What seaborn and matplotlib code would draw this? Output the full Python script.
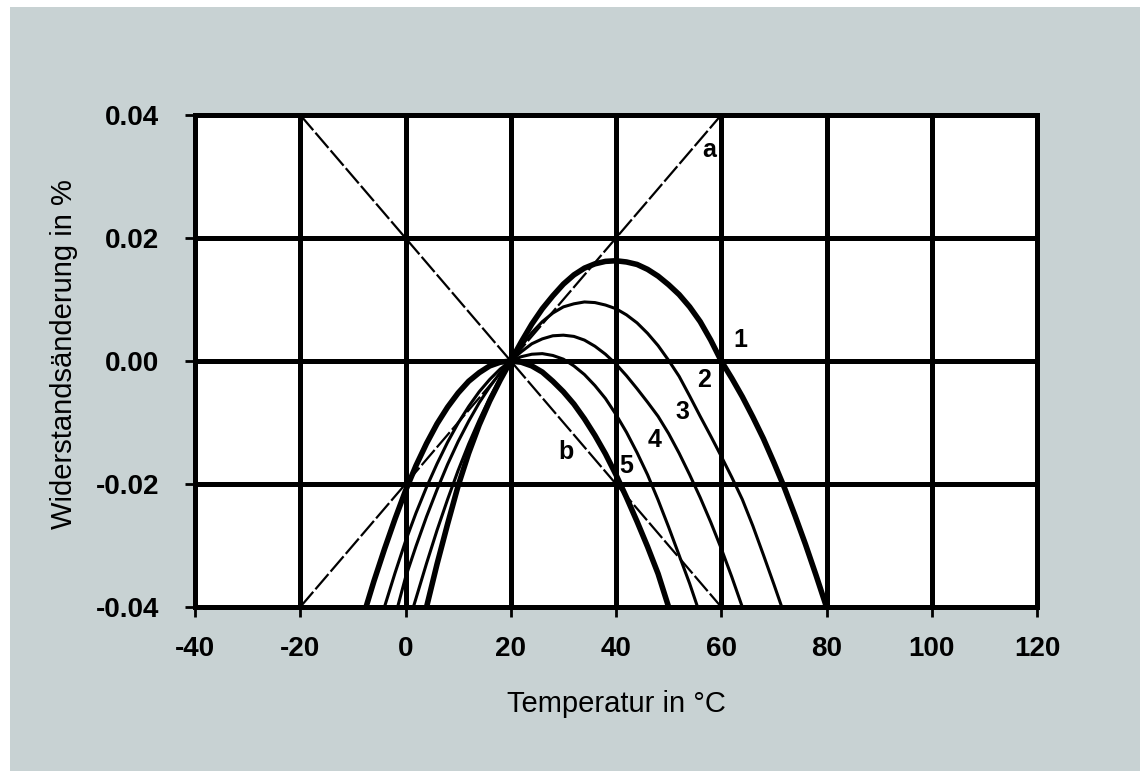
import matplotlib
matplotlib.use('Agg')
import matplotlib.pyplot as plt
import seaborn as sns
from matplotlib.patches import Rectangle

# Kurven der Widerstandsänderung (in %) über der Temperatur
temp_1 = [4, 6, 8, 10, 12, 14, 16, 18, 20, 22, 24, 26, 28, 30, 32, 34, 36, 38, 40, 42, 44, 46, 48,
          50, 52, 54, 56, 58, 60, 62, 64, 66, 68, 70, 72, 74, 76, 78, 80]
curve_1 = [-0.040, -0.0330, -0.0265, -0.0203, -0.0150, -0.0104, -0.0065, -0.0031, 0.0, 0.0031,
           0.0060, 0.0085, 0.0106, 0.0125, 0.0140, 0.0151, 0.0158, 0.0162, 0.0163, 0.0161, 0.0157,
           0.0149, 0.0138, 0.0124, 0.0108, 0.0088, 0.0064, 0.0034, 0.0, -0.0028, -0.0058, -0.0091,
           -0.0126, -0.0165, -0.0206, -0.0251, -0.0298, -0.0348, -0.040]

temp_2 = [1.5, 4, 6, 8, 10, 12, 14, 16, 18, 20, 22, 24, 26, 28, 30, 32, 34, 36, 38, 40, 42, 44, 46,
          48, 50, 52, 54, 56, 58, 60, 62, 64, 66, 68, 70, 71.5]
curve_2 = [-0.040, -0.0329, -0.0275, -0.0225, -0.0178, -0.0135, -0.0096, -0.0060, -0.0028, 0.0,
           0.0024, 0.0046, 0.0064, 0.0078, 0.0088, 0.0093, 0.0096, 0.0095, 0.0091, 0.0085, 0.0075,
           0.0062, 0.0045, 0.0025, 0.0001, -0.0025, -0.0057, -0.0090, -0.0122, -0.0155, -0.0189,
           -0.0225, -0.0268, -0.0315, -0.0363, -0.040]

temp_3 = [-1.5, 0, 2, 4, 6, 8, 10, 12, 14, 16, 18, 20, 22, 24, 26, 28, 30, 32, 34, 36, 38, 40, 42,
          44, 46, 48, 50, 52, 54, 56, 58, 60, 62, 64]
curve_3 = [-0.040, -0.0352, -0.0301, -0.0253, -0.0209, -0.0168, -0.0131, -0.0098, -0.0068, -0.0042,
           -0.0019, 0.0, 0.0015, 0.0028, 0.0036, 0.0041, 0.0042, 0.0040, 0.0034, 0.0024, 0.0011,
           -0.0005, -0.0024, -0.0045, -0.0067, -0.0090, -0.0118, -0.0150, -0.0185, -0.0222,
           -0.0262, -0.0305, -0.0351, -0.040]

temp_4 = [-4, -2, 0, 2, 4, 6, 8, 10, 12, 14, 16, 18, 20, 22, 24, 26, 28, 30, 32, 34, 36, 38, 40,
          42, 44, 46, 48, 50, 52, 54, 55.5]
curve_4 = [-0.040, -0.0345, -0.0293, -0.0247, -0.0205, -0.0167, -0.0132, -0.0101, -0.0074, -0.0050,
           -0.0030, -0.0013, 0.0, 0.0007, 0.0011, 0.0012, 0.0009, 0.0003, -0.0008, -0.0022, -0.0040,
           -0.0061, -0.0087, -0.0116, -0.0149, -0.0185, -0.0226, -0.0270, -0.0316, -0.0362, -0.040]

temp_5 = [-7.5, -6, -4, -2, 0, 2, 4, 6, 8, 10, 12, 14, 16, 18, 20, 22, 24, 26, 28, 30, 32, 34, 36,
          38, 40, 42, 44, 46, 48, 50]
curve_5 = [-0.040, -0.0358, -0.0306, -0.0257, -0.0211, -0.0170, -0.0134, -0.0102, -0.0075, -0.0052,
           -0.0033, -0.0019, -0.0008, -0.0002, 0.0, -0.0002, -0.0008, -0.0018, -0.0033, -0.0050,
           -0.0070, -0.0094, -0.0121, -0.0151, -0.0185, -0.0222, -0.0261, -0.0302, -0.0346, -0.040]

# Geraden a und b
temp_ab = [-20, 60]
line_a = [-0.04, 0.04]
line_b = [0.04, -0.04]

x_ticks = [-40, -20, 0, 20, 40, 60, 80, 100, 120]
y_ticks = [-0.04, -0.02, 0.00, 0.02, 0.04]

# Beschriftungen der Kurven
label_text = ['1', '2', '3', '4', '5', 'b', 'a']
label_x = [63.6, 56.7, 52.7, 47.4, 41.9, 30.5, 57.7]
label_y = [0.0034, -0.0031, -0.0083, -0.0128, -0.0171, -0.0148, 0.0343]

sns.set_theme(style='white')
plt.rcParams['font.family'] = ['Liberation Sans', 'DejaVu Sans']
plt.rcParams['axes.unicode_minus'] = False
plt.rcParams['text.color'] = 'black'
plt.rcParams['axes.labelcolor'] = 'black'
plt.rcParams['xtick.color'] = 'black'
plt.rcParams['ytick.color'] = 'black'

bg = '#c8d2d3'
fig = plt.figure(figsize=(11.45, 7.76), dpi=100)
fig.patch.set_facecolor('white')
fig.add_artist(Rectangle((10 / 1145, 5 / 776), 1130 / 1145, 764 / 776, transform=fig.transFigure,
                         facecolor=bg, edgecolor='none', zorder=-10))

ax = fig.add_axes([195 / 1145, 1 - 607 / 776, 842 / 1145, 492 / 776])
ax.set_facecolor('white')

curves = [(temp_1, curve_1, 4.0), (temp_2, curve_2, 2.2), (temp_3, curve_3, 2.2),
          (temp_4, curve_4, 2.2), (temp_5, curve_5, 4.0)]
for t, v, lw in curves:
    sns.lineplot(x=t, y=v, ax=ax, color='black', linewidth=lw, zorder=3)

for v in [line_a, line_b]:
    sns.lineplot(x=temp_ab, y=v, ax=ax, color='black', linewidth=1.6,
                 linestyle=(0, (9, 1.5)), zorder=3)

for s, x, y in zip(label_text, label_x, label_y):
    ax.text(x, y, s, fontsize=18, fontweight='bold', ha='center', va='center', zorder=4)

ax.set_xlim(-40, 120)
ax.set_ylim(-0.04, 0.04)
ax.set_xticks(x_ticks)
ax.set_yticks(y_ticks)
ax.set_xticklabels([str(v) for v in x_ticks])
ax.set_yticklabels(['%.2f' % v for v in y_ticks])
ax.grid(True, color='black', linewidth=3.6)
ax.set_axisbelow(True)
for sp in ax.spines.values():
    sp.set_color('black')
    sp.set_linewidth(3.6)

ax.tick_params(bottom=True, left=True, direction='out', length=7, width=2, color='black',
               labelsize=20)
ax.tick_params(axis='x', pad=14)
ax.tick_params(axis='y', pad=19)
for lab in ax.get_xticklabels() + ax.get_yticklabels():
    lab.set_fontweight('bold')

ax.set_xlabel('Temperatur in °C', fontsize=21)
ax.set_ylabel('Widerstandsänderung in %', fontsize=21)
ax.xaxis.set_label_coords(0.5, -0.169)
ax.yaxis.set_label_coords(-0.139, 0.514)

fig.savefig('out.png', dpi=100, facecolor=fig.get_facecolor())
